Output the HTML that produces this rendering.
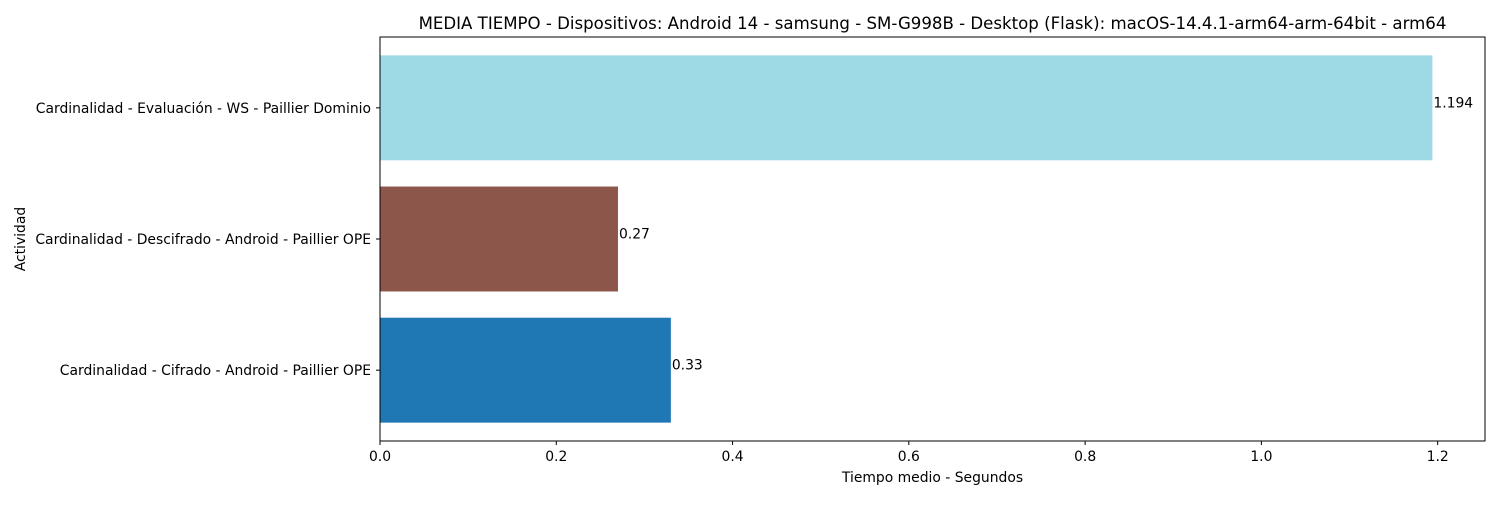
<!DOCTYPE html>
<html><head><meta charset="utf-8"><style>
body{margin:0;background:#fff;}
svg text{font-family:"DejaVu Sans","Liberation Sans",sans-serif;fill:#000;}
</style></head><body>
<svg id="chart" width="1500" height="500" xmlns="http://www.w3.org/2000/svg"></svg>
<script>
const categories=["Cardinalidad - Cifrado - Android - Paillier OPE","Cardinalidad - Descifrado - Android - Paillier OPE","Cardinalidad - Evaluación - WS - Paillier Dominio"];
const values=[0.33,0.27,1.194];
const valueLabels=["0.33","0.27","1.194"];
const colors=["#1f77b4","#8c564b","#9edae5"];
const xTicks=[0,0.2,0.4,0.6,0.8,1.0,1.2];
const xTickLabels=["0.0","0.2","0.4","0.6","0.8","1.0","1.2"];

const NS="http://www.w3.org/2000/svg";
const svg=document.getElementById('chart');
const L=380,R=1485,T=37,B=441;
const FS=13.9;
const xMax=Math.max(...values)*1.05;
const x=v=>L+(v/xMax)*(R-L);
const yMin=-0.54,yMaxV=categories.length-1+0.54;
const y=v=>B-(v-yMin)/(yMaxV-yMin)*(B-T);
function mk(tag,attrs,parent){const e=document.createElementNS(NS,tag);for(const k in attrs)e.setAttribute(k,attrs[k]);(parent||svg).appendChild(e);return e;}

values.forEach((v,i)=>{
  const r=mk('rect',{x:x(0),y:y(i+0.4),width:x(v)-x(0),height:y(i-0.4)-y(i+0.4),fill:colors[i%colors.length]});
  
  
  const t=mk('text',{x:x(v)+1,y:y(i)-0.5,'font-size':FS});
  t.textContent=valueLabels[i];
  
  
  mk('line',{x1:L-4,x2:L,y1:y(i),y2:y(i),stroke:'#000','stroke-width':1});
  const lb=mk('text',{x:L-9,y:y(i)+5,'font-size':FS,'text-anchor':'end'});
  lb.textContent=categories[i];
  
  
});
xTicks.forEach((v,i)=>{
  mk('line',{x1:x(v),x2:x(v),y1:B,y2:B+4,stroke:'#000','stroke-width':1});
  const t=mk('text',{x:x(v),y:B+20,'font-size':FS,'text-anchor':'middle'});
  t.textContent=xTickLabels[i];
  
  
});
const frame=mk('rect',{x:L,y:T,width:R-L,height:B-T,fill:'none',stroke:'#000','stroke-width':1});


const xt=mk('text',{x:(L+R)/2,y:482,'font-size':FS,'text-anchor':'middle'});
xt.textContent="Tiempo medio - Segundos";


const yt=mk('text',{x:0,y:0,'font-size':FS,'text-anchor':'middle',transform:`translate(25,${(T+B)/2}) rotate(-90)`});
yt.textContent="Actividad";


const tt=mk('text',{x:(L+R)/2,y:29,'font-size':16.6,'text-anchor':'middle'});
tt.textContent="MEDIA TIEMPO - Dispositivos: Android 14 - samsung - SM-G998B - Desktop (Flask): macOS-14.4.1-arm64-arm-64bit - arm64";


</script>
</body></html>
